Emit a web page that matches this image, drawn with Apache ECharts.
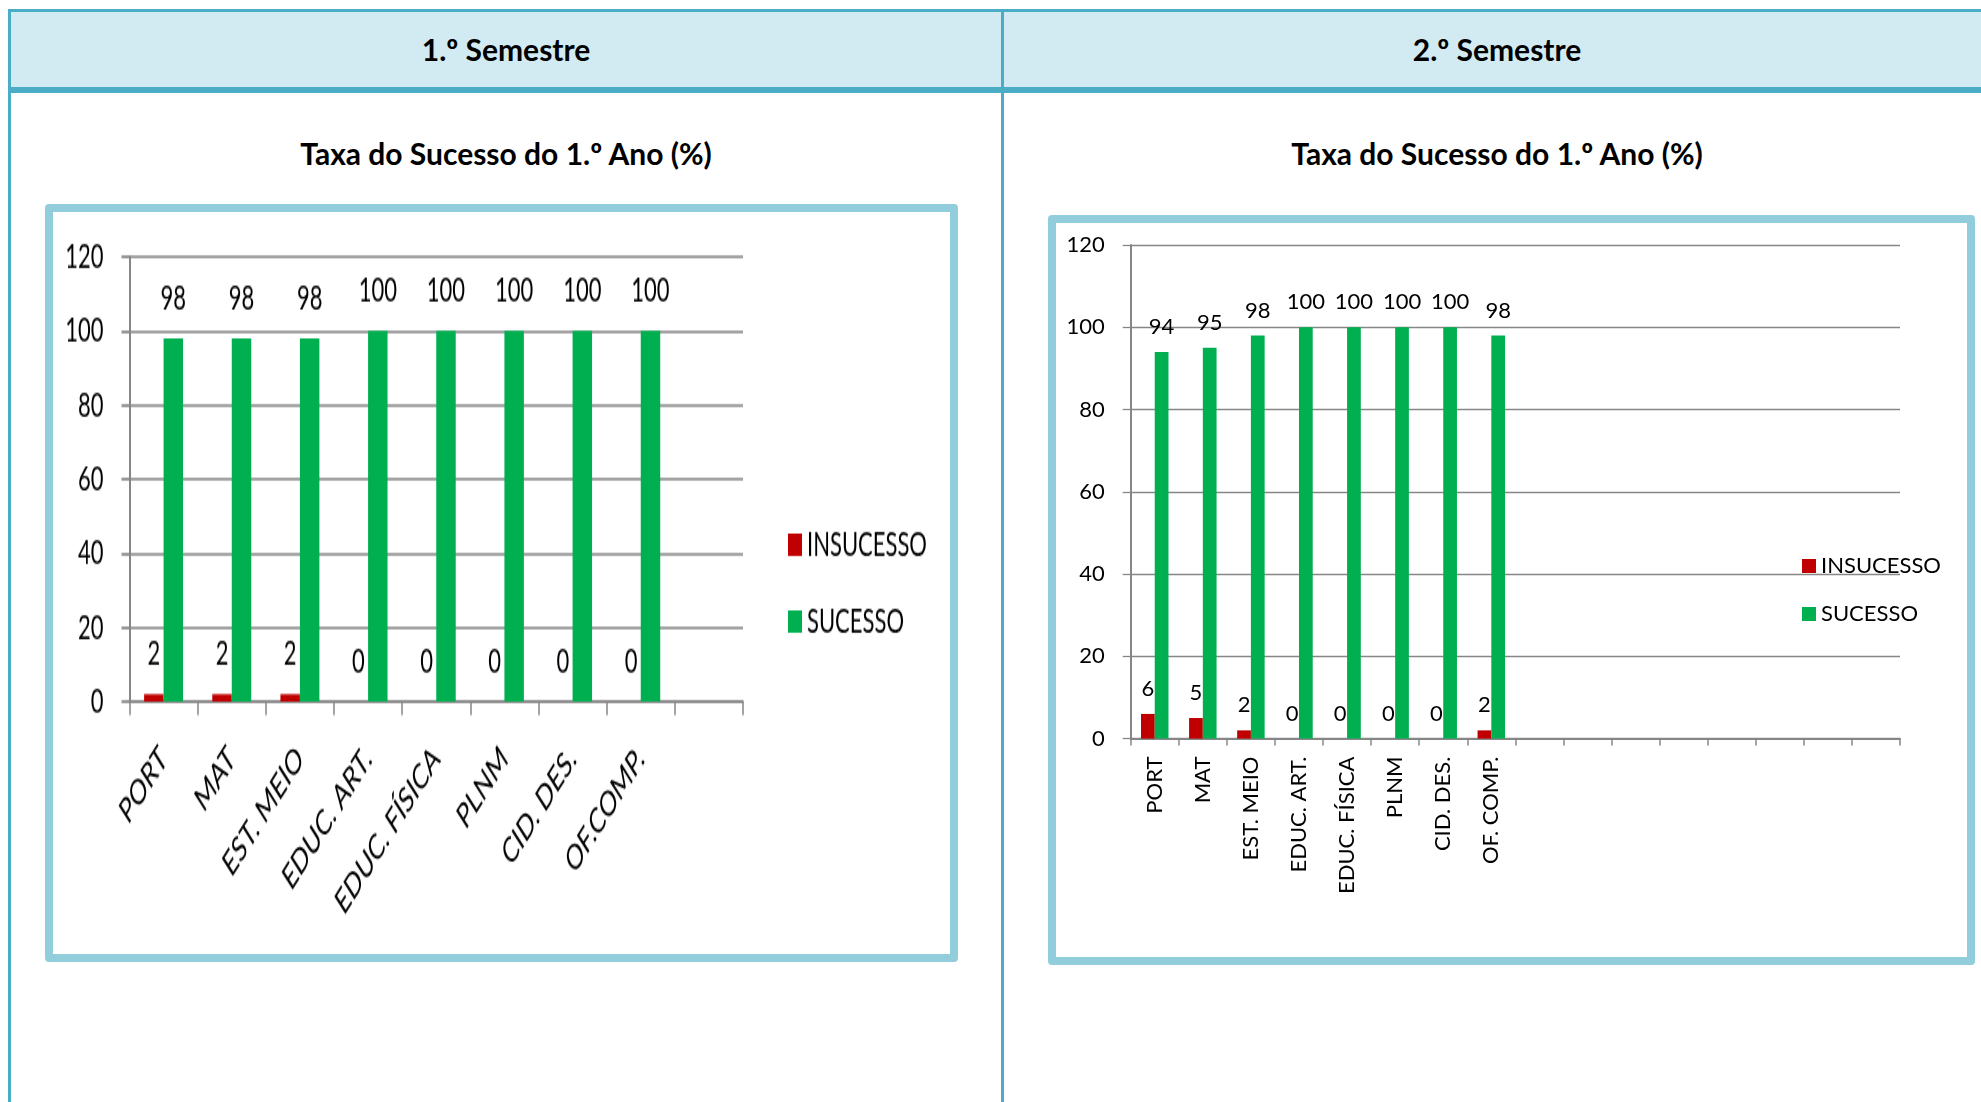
<!DOCTYPE html>
<html>
<head>
<meta charset="utf-8">
<script src="https://cdn.jsdelivr.net/npm/echarts@6/dist/echarts.min.js"></script>
<style>
html,body{margin:0;padding:0;width:1981px;height:1102px;overflow:hidden;background:#fff;font-family:Lato,sans-serif;}
.a{position:absolute;}
.teal{background:#4BACC6;}
.hdr{position:absolute;top:12px;height:75px;line-height:75px;text-align:center;font-weight:bold;font-size:30px;color:#000;}
.ttl{position:absolute;top:130px;height:46px;line-height:46px;text-align:center;font-weight:bold;font-size:30px;color:#000;}
.box{position:absolute;box-sizing:border-box;border:8px solid #92CDDC;border-radius:4px;background:#fff;}
</style>
</head>
<body>
<!-- table frame -->
<div class="a" style="left:11px;top:12px;width:1990px;height:75px;background:#D2EAF1;"></div>
<div class="a teal" style="left:8px;top:9px;width:1990px;height:3px;"></div>
<div class="a teal" style="left:8px;top:87px;width:1990px;height:6px;"></div>
<div class="a teal" style="left:8px;top:9px;width:3px;height:1100px;"></div>
<div class="a teal" style="left:1001px;top:9px;width:3px;height:1100px;"></div>

<div class="hdr" style="left:11px;width:990px;">1.º Semestre</div>
<div class="hdr" style="left:1004px;width:986px;">2.º Semestre</div>
<div class="ttl" style="left:11px;width:990px;">Taxa do Sucesso do 1.º Ano (%)</div>
<div class="ttl" style="left:1004px;width:986px;">Taxa do Sucesso do 1.º Ano (%)</div>

<div class="box" style="left:45px;top:204px;width:913px;height:758px;"></div>
<div class="box" style="left:1048px;top:215px;width:927px;height:750px;"></div>

<div id="c1" class="a" style="left:45px;top:204px;width:913px;height:474px;transform:scaleY(1.6);transform-origin:0 0;"></div>
<div id="c2" class="a" style="left:1048px;top:215px;width:927px;height:750px;"></div>

<script>
// ---- data ----
const seriesNames = ['INSUCESSO', 'SUCESSO'];
const categories1 = ['PORT', 'MAT', 'EST. MEIO', 'EDUC. ART.', 'EDUC. FÍSICA', 'PLNM', 'CID. DES.', 'OF.COMP.', ''];
const insucesso1 = [2, 2, 2, 0, 0, 0, 0, 0];
const sucesso1 = [98, 98, 98, 100, 100, 100, 100, 100];

const categories2 = ['PORT', 'MAT', 'EST. MEIO', 'EDUC. ART.', 'EDUC. FÍSICA', 'PLNM', 'CID. DES.', 'OF. COMP.',
  '', '', '', '', '', '', '', ''];
const insucesso2 = [6, 5, 2, 0, 0, 0, 0, 2];
const sucesso2 = [94, 95, 98, 100, 100, 100, 100, 98];

const yMin = 0, yMax = 120, yStep = 20;

const RED = '#C00000', GREEN = '#00B050', GRAY = '#868686';
const FONT = 'Lato';

function makeOption(cfg) {
  const txt = { fontFamily: FONT, fontSize: 22, color: '#000' };
  const lbl = Object.assign({ show: true, position: 'top', distance: 14 }, txt);
  return {
    animation: false,
    backgroundColor: 'transparent',
    textStyle: { fontFamily: FONT },
    legend: {
      orient: 'vertical', left: cfg.legLeft, top: cfg.legTop,
      itemWidth: 14, itemHeight: 14, itemGap: 26, icon: 'rect',
      textStyle: txt, data: seriesNames
    },
    grid: cfg.grid,
    xAxis: {
      type: 'category', data: cfg.categories, boundaryGap: true,
      axisLine: { show: true, lineStyle: { color: GRAY, width: cfg.axisW } },
      axisTick: { show: true, interval: 0, length: cfg.xTickLen, lineStyle: { color: GRAY, width: 1.5 } },
      axisLabel: Object.assign({ interval: 0, rotate: cfg.rotate, margin: cfg.xMargin }, txt),
      splitLine: { show: false }
    },
    yAxis: {
      type: 'value', min: yMin, max: yMax, interval: yStep,
      axisLine: { show: true, lineStyle: { color: GRAY, width: 2 } },
      axisTick: { show: true, length: 8, lineStyle: { color: GRAY, width: cfg.gridW } },
      axisLabel: Object.assign({ margin: 26 }, txt),
      splitLine: { show: true, lineStyle: { color: GRAY, width: cfg.gridW } }
    },
    series: [
      { name: seriesNames[0], type: 'bar', data: cfg.ins, itemStyle: { color: RED },
        barGap: '0%', barCategoryGap: '42.86%', label: lbl },
      { name: seriesNames[1], type: 'bar', data: cfg.suc, itemStyle: { color: GREEN },
        barGap: '0%', barCategoryGap: '42.86%', label: lbl }
    ]
  };
}

const chart1 = echarts.init(document.getElementById('c1'), null, { renderer: 'canvas' });
chart1.setOption(makeOption({
  categories: categories1, ins: insucesso1, suc: sucesso1,
  grid: { left: 84.5, right: 215, top: 33, bottom: 163, containLabel: false },
  legLeft: 738, legTop: 197, rotate: 45, xMargin: 32, xTickLen: 8.6, axisW: 1.6, gridW: 1.7
}));

const chart2 = echarts.init(document.getElementById('c2'), null, { renderer: 'canvas' });
chart2.setOption(makeOption({
  categories: categories2, ins: insucesso2, suc: sucesso2,
  grid: { left: 82.7, right: 75, top: 30, bottom: 226.4, containLabel: false },
  legLeft: 749, legTop: 335, rotate: 90, xMargin: 18, xTickLen: 7, axisW: 2, gridW: 1.3
}));
</script>
</body>
</html>
